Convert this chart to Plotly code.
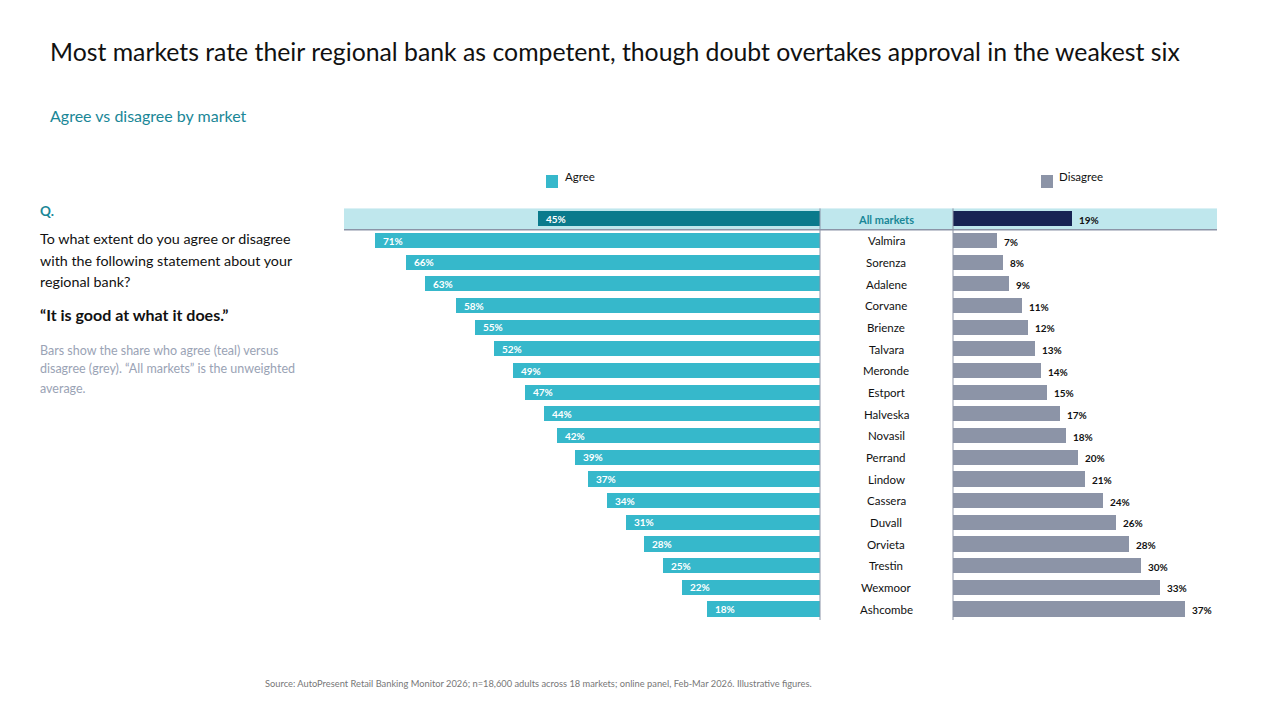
import plotly.graph_objects as go

markets = ["All markets", "Valmira", "Sorenza", "Adalene", "Corvane", "Brienze", "Talvara",
           "Meronde", "Estport", "Halveska", "Novasil", "Perrand", "Lindow", "Cassera",
           "Duvall", "Orvieta", "Trestin", "Wexmoor", "Ashcombe"]
agree = [45, 71, 66, 63, 58, 55, 52, 49, 47, 44, 42, 39, 37, 34, 31, 28, 25, 22, 18]
disagree = [19, 7, 8, 9, 11, 12, 13, 14, 15, 17, 18, 20, 21, 24, 26, 28, 30, 33, 37]

W, H = 1280, 720
FONT = "Lato"
TEAL = "#36B8CB"
DTEAL = "#0A7A8C"
NAVY = "#172353"
GREY = "#8C94A7"
BAND = "#BFE7ED"
LINE = "#8C94A7"


def px(x):
    return x / W


def py(y):
    return 1 - y / H


ypos = list(range(len(markets)))
agree_colors = [DTEAL] + [TEAL] * (len(markets) - 1)
dis_colors = [NAVY] + [GREY] * (len(markets) - 1)

fig = go.Figure()
fig.add_trace(go.Bar(y=ypos, x=agree, orientation="h", marker=dict(color=agree_colors, line_width=0),
                     width=0.7, xaxis="x", yaxis="y", showlegend=False, hoverinfo="skip"))
fig.add_trace(go.Bar(y=ypos, x=disagree, orientation="h", marker=dict(color=dis_colors, line_width=0),
                     width=0.7, xaxis="x2", yaxis="y2", showlegend=False, hoverinfo="skip"))

ydom = [py(620), py(208.2)]
yrange = [len(markets) - 0.5, -0.5]
left_w = 820 - 344
right_w = 1217 - 953
scale = 6.27
fig.update_layout(
    width=W, height=H, margin=dict(l=0, r=0, t=0, b=0),
    paper_bgcolor="white", plot_bgcolor="rgba(0,0,0,0)",
    font=dict(family=FONT, color="#111111"),
    bargap=0,
    xaxis=dict(domain=[px(344), px(820)], range=[left_w / scale, 0], visible=False, fixedrange=True),
    yaxis=dict(domain=ydom, range=yrange, visible=False, fixedrange=True),
    xaxis2=dict(domain=[px(953), px(1217)], range=[0, right_w / scale], visible=False, fixedrange=True),
    yaxis2=dict(domain=ydom, range=yrange, visible=False, fixedrange=True, anchor="x2"),
)

shapes = []
# highlight band
shapes.append(dict(type="rect", xref="paper", yref="y", x0=px(344), x1=px(1217), y0=-0.5, y1=0.5,
                   fillcolor=BAND, line_width=0, layer="below"))
shapes.append(dict(type="line", xref="paper", yref="y", x0=px(344), x1=px(1217), y0=0.5, y1=0.5,
                   line=dict(color=LINE, width=1.5), layer="above"))
for xv in (820, 953):
    shapes.append(dict(type="line", xref="paper", yref="y", x0=px(xv), x1=px(xv), y0=-0.5,
                       y1=len(markets) - 0.5, line=dict(color=LINE, width=1), layer="above"))
# legend squares
shapes.append(dict(type="rect", xref="paper", yref="paper", x0=px(546), x1=px(558), y0=py(188), y1=py(175),
                   fillcolor=TEAL, line_width=0))
shapes.append(dict(type="rect", xref="paper", yref="paper", x0=px(1041), x1=px(1053), y0=py(188), y1=py(175),
                   fillcolor=GREY, line_width=0))

ann = []
for i, (m, a, d) in enumerate(zip(markets, agree, disagree)):
    ann.append(dict(xref="x", yref="y", x=a, y=i, text=f"<b>{a}%</b>", showarrow=False,
                    xanchor="left", xshift=6, font=dict(size=10, color="white", family=FONT)))
    ann.append(dict(xref="x2", yref="y2", x=d, y=i, text=f"<b>{d}%</b>", showarrow=False,
                    xanchor="left", xshift=5, yshift=-1, font=dict(size=10, color="#111111", family=FONT)))
    if i == 0:
        ann.append(dict(xref="paper", yref="y", x=px(886), y=i, text="<b>All markets</b>", showarrow=False,
                        xanchor="center", font=dict(size=11, color="#1A8797", family=FONT)))
    else:
        ann.append(dict(xref="paper", yref="y", x=px(886), y=i, text=m, showarrow=False,
                        xanchor="center", font=dict(size=11.5, color="#111111", family=FONT)))


def txt(x, y, t, size, color, bold=False, anchor="left"):
    ann.append(dict(xref="paper", yref="paper", x=px(x - 2), y=py(y), text=(f"<b>{t}</b>" if bold else t),
                    showarrow=False, xanchor=anchor, yanchor="middle",
                    font=dict(size=size, color=color, family=FONT)))


txt(50, 52, "Most markets rate their regional bank as competent, though doubt overtakes approval in the weakest six",
    24.8, "#111111")
txt(50, 116, "Agree vs disagree by market", 16, "#1A8797")
txt(565, 176, "Agree", 11.5, "#111111")
txt(1059, 176, "Disagree", 11.5, "#111111")
txt(40, 211, "Q.", 13.5, "#1A8797", bold=True)
txt(40, 239, "To what extent do you agree or disagree", 14.3, "#111111")
txt(40, 260, "with the following statement about your", 14.3, "#111111")
txt(40, 282, "regional bank?", 14.3, "#111111")
txt(40, 314, "\u201cIt is good at what it does.\u201d", 16, "#111111", bold=True)
txt(40, 350, "Bars show the share who agree (teal) versus", 12.5, "#9AA3B5")
txt(40, 369, "disagree (grey). \u201cAll markets\u201d is the unweighted", 12.5, "#9AA3B5")
txt(40, 388, "average.", 12.5, "#9AA3B5")
txt(265, 683, "Source: AutoPresent Retail Banking Monitor 2026; n=18,600 adults across 18 markets; online panel, Feb-Mar 2026. Illustrative figures.",
    9.3, "#777777")

fig.update_layout(shapes=shapes, annotations=ann)
fig.write_html("out.html")
